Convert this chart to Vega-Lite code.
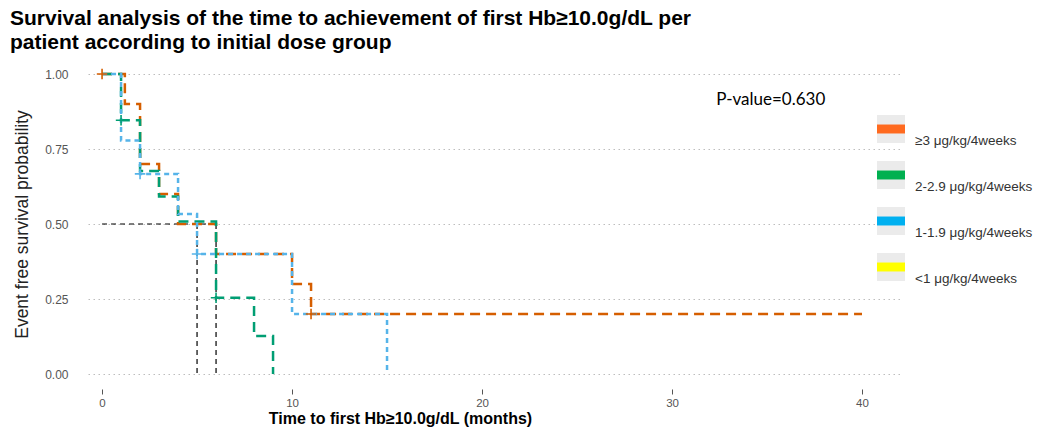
{
  "$schema": "https://vega.github.io/schema/vega-lite/v6.json",
  "width": 812,
  "height": 330,
  "autosize": {"type": "none"},
  "padding": {"left": 88, "top": 59, "right": 137, "bottom": 38},
  "background": "white",
  "config": {"view": {"stroke": null}, "font": "Liberation Sans"},
  "title": {
    "text": ["Survival analysis of the time to achievement of first Hb≥10.0g/dL per", "patient according to initial dose group"],
    "anchor": "start",
    "frame": "group",
    "dx": -78,
    "fontSize": 21,
    "fontWeight": "bold",
    "color": "#000000",
    "lineHeight": 24,
    "offset": 6
  },
  "datasets": {
    "curves": [
      {"group": "≥3 μg/kg/4weeks", "time": 0, "surv": 1.0},
      {"group": "≥3 μg/kg/4weeks", "time": 1.2, "surv": 0.9},
      {"group": "≥3 μg/kg/4weeks", "time": 2, "surv": 0.7},
      {"group": "≥3 μg/kg/4weeks", "time": 3, "surv": 0.6},
      {"group": "≥3 μg/kg/4weeks", "time": 4, "surv": 0.5},
      {"group": "≥3 μg/kg/4weeks", "time": 6, "surv": 0.4},
      {"group": "≥3 μg/kg/4weeks", "time": 10, "surv": 0.3},
      {"group": "≥3 μg/kg/4weeks", "time": 11, "surv": 0.2},
      {"group": "≥3 μg/kg/4weeks", "time": 40, "surv": 0.2},
      {"group": "2-2.9 μg/kg/4weeks", "time": 0, "surv": 1.0},
      {"group": "2-2.9 μg/kg/4weeks", "time": 1, "surv": 0.846},
      {"group": "2-2.9 μg/kg/4weeks", "time": 2, "surv": 0.677},
      {"group": "2-2.9 μg/kg/4weeks", "time": 3, "surv": 0.592},
      {"group": "2-2.9 μg/kg/4weeks", "time": 4, "surv": 0.508},
      {"group": "2-2.9 μg/kg/4weeks", "time": 6, "surv": 0.254},
      {"group": "2-2.9 μg/kg/4weeks", "time": 8, "surv": 0.127},
      {"group": "2-2.9 μg/kg/4weeks", "time": 9, "surv": 0.0},
      {"group": "1-1.9 μg/kg/4weeks", "time": 0, "surv": 1.0},
      {"group": "1-1.9 μg/kg/4weeks", "time": 1, "surv": 0.778},
      {"group": "1-1.9 μg/kg/4weeks", "time": 2, "surv": 0.667},
      {"group": "1-1.9 μg/kg/4weeks", "time": 4, "surv": 0.533},
      {"group": "1-1.9 μg/kg/4weeks", "time": 5, "surv": 0.4},
      {"group": "1-1.9 μg/kg/4weeks", "time": 10, "surv": 0.2},
      {"group": "1-1.9 μg/kg/4weeks", "time": 15, "surv": 0.0}
    ],
    "censor": [
      {"group": "≥3 μg/kg/4weeks", "time": 0, "surv": 1.0},
      {"group": "≥3 μg/kg/4weeks", "time": 11, "surv": 0.2},
      {"group": "2-2.9 μg/kg/4weeks", "time": 1, "surv": 0.846},
      {"group": "2-2.9 μg/kg/4weeks", "time": 6, "surv": 0.254},
      {"group": "1-1.9 μg/kg/4weeks", "time": 2, "surv": 0.667},
      {"group": "1-1.9 μg/kg/4weeks", "time": 5, "surv": 0.4}
    ],
    "median": [
      {"time": 0, "surv": 0.5, "time2": 6, "surv2": 0.5},
      {"time": 5, "surv": 0.5, "time2": 5, "surv2": 0},
      {"time": 6, "surv": 0.5, "time2": 6, "surv2": 0}
    ],
    "groups": [
      {"group": "≥3 μg/kg/4weeks"},
      {"group": "2-2.9 μg/kg/4weeks"},
      {"group": "1-1.9 μg/kg/4weeks"},
      {"group": "<1 μg/kg/4weeks"}
    ],
    "keys": [
      {"key": "a"},
      {"key": "b"},
      {"key": "c"},
      {"key": "d"}
    ],
    "pval": [
      {"time": 35.2, "surv": 0.913, "label": "P-value=0.630"}
    ]
  },
  "encoding": {
    "x": {
      "field": "time",
      "type": "quantitative",
      "scale": {"domain": [-0.74, 42], "nice": false, "zero": false},
      "axis": {
        "title": "Time to first Hb≥10.0g/dL (months)",
        "values": [0, 10, 20, 30, 40],
        "grid": false,
        "domain": false,
        "ticks": true,
        "tickSize": 5,
        "tickColor": "#555555",
        "labelFontSize": 11.5,
        "labelColor": "#555555",
        "labelPadding": 3,
        "titleFontSize": 16,
        "titleFontWeight": "bold",
        "titleColor": "#000000",
        "titleX": 312,
        "titleY": 34,
        "titleAlign": "center",
        "titleBaseline": "alphabetic"
      }
    },
    "y": {
      "field": "surv",
      "type": "quantitative",
      "scale": {"domain": [-0.05, 1.05], "nice": false, "zero": false},
      "axis": {
        "title": "Event free survival probability",
        "values": [0, 0.25, 0.5, 0.75, 1],
        "format": ".2f",
        "grid": true,
        "gridDash": [1.5, 3.5],
        "gridColor": "#bdbdbd",
        "gridWidth": 1,
        "domain": false,
        "ticks": false,
        "labelPadding": 20,
        "labelFontSize": 12,
        "labelColor": "#555555",
        "titleFontSize": 17.5,
        "titleFontWeight": "normal",
        "titleColor": "#222222",
        "titleX": -66,
        "titleBaseline": "middle"
      }
    }
  },
  "layer": [
    {
      "data": {"name": "keys"},
      "mark": {"type": "point", "filled": true, "opacity": 0},
      "encoding": {
        "fill": {
          "field": "key",
          "type": "nominal",
          "scale": {
            "domain": ["a", "b", "c", "d"],
            "range": ["#EBEBEB", "#EBEBEB", "#EBEBEB", "#EBEBEB"]
          },
          "legend": {
            "orient": "none",
            "legendX": 789,
            "legendY": 56,
            "title": null,
            "padding": 0,
            "rowPadding": 18,
            "symbolType": "square",
            "symbolSize": 784,
            "symbolStrokeWidth": 0,
            "symbolOpacity": 1,
            "labelExpr": "''",
            "labelOffset": 10
          }
        }
      }
    },
    {
      "data": {"name": "groups"},
      "mark": {"type": "point", "filled": true, "opacity": 0},
      "encoding": {
        "color": {
          "field": "group",
          "type": "nominal",
          "scale": {
            "domain": ["≥3 μg/kg/4weeks", "2-2.9 μg/kg/4weeks", "1-1.9 μg/kg/4weeks", "<1 μg/kg/4weeks"],
            "range": ["#FF6A1F", "#00B050", "#00B0F0", "#FFFF00"]
          },
          "legend": {
            "orient": "none",
            "legendX": 789,
            "legendY": 56,
            "title": null,
            "padding": 0,
            "rowPadding": 13,
            "symbolType": "M-1,-0.32H1V0.32H-1Z",
            "symbolSize": 784,
            "symbolStrokeWidth": 0,
            "symbolOpacity": 1,
            "labelFontSize": 13.5,
            "labelColor": "#333333",
            "labelOffset": 10,
            "labelLimit": 200,
            "encode": {"labels": {"update": {"dy": {"value": 12}}}}
          }
        }
      }
    },
    {
      "data": {"name": "median"},
      "mark": {"type": "rule", "strokeDash": [5, 4], "color": "#000000", "strokeWidth": 1.2},
      "encoding": {
        "x2": {"field": "time2"},
        "y2": {"field": "surv2"}
      }
    },
    {
      "data": {"name": "curves"},
      "mark": {"type": "line", "interpolate": "step-after", "strokeWidth": 2.5},
      "encoding": {
        "stroke": {
          "field": "group",
          "type": "nominal",
          "scale": {
            "domain": ["≥3 μg/kg/4weeks", "2-2.9 μg/kg/4weeks", "1-1.9 μg/kg/4weeks"],
            "range": ["#D55E00", "#009E73", "#56B4E9"]
          },
          "legend": null
        },
        "strokeDash": {
          "field": "group",
          "type": "nominal",
          "scale": {
            "domain": ["≥3 μg/kg/4weeks", "2-2.9 μg/kg/4weeks", "1-1.9 μg/kg/4weeks"],
            "range": [[10, 6], [10, 6], [5, 4]]
          },
          "legend": null
        }
      }
    },
    {
      "data": {"name": "censor"},
      "mark": {"type": "point", "shape": "M-1,0H1M0,-1V1", "filled": false, "size": 110, "strokeWidth": 1.6, "opacity": 1},
      "encoding": {
        "stroke": {"field": "group", "type": "nominal", "legend": null}
      }
    },
    {
      "data": {"name": "pval"},
      "mark": {"type": "text", "font": "Lato", "fontSize": 17, "align": "center", "baseline": "middle", "color": "#000000"},
      "encoding": {
        "text": {"field": "label"}
      }
    }
  ]
}
